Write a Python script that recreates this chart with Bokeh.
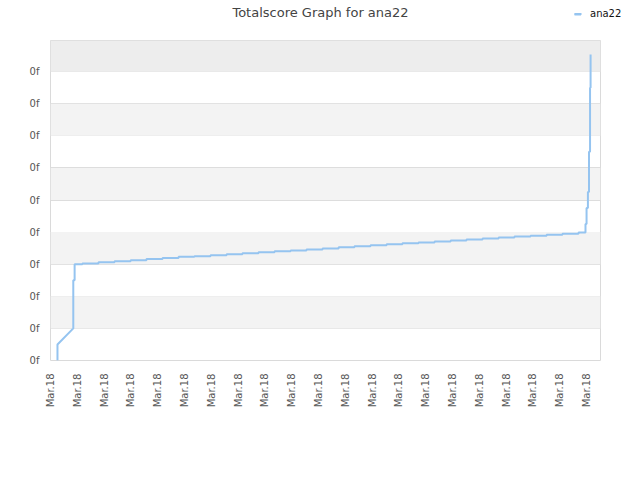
import math
from bokeh.plotting import figure
from bokeh.layouts import column
from bokeh.models import (Range1d, FixedTicker, BoxAnnotation, Legend,
                          LegendItem)
from bokeh.core.properties import value
from bokeh.embed import file_html
from bokeh.resources import INLINE

# ---- data (x in tick-index units, y in gridline units) ----
start_x = [0.26, 0.26, 0.85, 0.85, 0.90]
start_y = [0.0, 0.5, 1.0, 2.5, 2.5]

step_x = [0.90, 1.19, 1.79, 2.39, 2.99, 3.58, 4.18, 4.78, 5.37, 5.97, 6.57,
          7.16, 7.76, 8.36, 8.96, 9.55, 10.15, 10.75, 11.34, 11.94, 12.54,
          13.13, 13.73, 14.33, 14.93, 15.52, 16.12, 16.72, 17.31, 17.91,
          18.51, 19.10, 19.70, 19.96, 20.00, 20.05, 20.09, 20.13, 20.15]
step_y = [3.00, 3.02, 3.06, 3.09, 3.12, 3.16, 3.19, 3.23, 3.25, 3.28, 3.31,
          3.34, 3.37, 3.40, 3.43, 3.46, 3.49, 3.53, 3.56, 3.59, 3.62,
          3.65, 3.68, 3.71, 3.74, 3.77, 3.80, 3.83, 3.86, 3.89,
          3.92, 3.95, 3.99, 4.25, 4.75, 5.25, 6.50, 8.50, 9.53]

x_ticks = list(range(21))
x_tick_labels = ["Mar.18"] * 21
y_ticks = list(range(10))
y_tick_labels = ["0f"] * 10

series_name = "ana22"
title_text = "Totalscore Graph for ana22"

# build path (steps drawn "after")
px = list(start_x)
py = list(start_y)
for xv, yv in zip(step_x, step_y):
    px.append(xv)
    py.append(py[-1])
    px.append(xv)
    py.append(yv)

FONT = "DejaVu Sans"
LINE_COLOR = "#95c4f0"

# ---------- header (title + legend), pixel-like coordinates ----------
hp = figure(width=640, height=40, output_backend="svg", toolbar_location=None,
            x_range=Range1d(0, 640), y_range=Range1d(40, 0),
            x_axis_type=None, y_axis_type=None,
            min_border_left=0, min_border_right=0, min_border_top=0,
            min_border_bottom=0)
hp.frame_align = False
hp.outline_line_color = None
hp.xgrid.visible = False
hp.ygrid.visible = False
hp.background_fill_color = "white"
hp.border_fill_color = "white"
hp.text(x=[320], y=[12], text=[title_text], text_align="center",
        text_baseline="middle", text_font=value(FONT),
        text_font_size="13px", text_color="#444444")
# legend key (drawn where the legend places its glyph)
key = hp.line(x=[574, 581], y=[13.5, 13.5], line_color=LINE_COLOR,
              line_width=2)
legend = Legend(items=[LegendItem(label=series_name, renderers=[key])],
                location=(574, 20.5), padding=0, margin=0, spacing=0,
                glyph_width=7, glyph_height=12, label_height=12,
                label_standoff=9, label_text_font=FONT,
                label_text_font_size="10px", label_text_color="#111111",
                background_fill_alpha=0, border_line_color=None)
hp.add_layout(legend, "center")

# ---------- main plot ----------
p = figure(width=640, height=400, output_backend="svg", toolbar_location=None,
           x_range=Range1d(0, 20.52), y_range=Range1d(0, 9.97),
           min_border_left=50, min_border_right=40, min_border_top=0,
           min_border_bottom=80)
p.frame_align = False

p.background_fill_color = "white"
p.border_fill_color = "white"
p.outline_line_color = "#dadada"
p.outline_line_width = 1

for b in range(1, 9, 2):
    p.add_layout(BoxAnnotation(bottom=b, top=b + 1, fill_color="#f3f3f3",
                               fill_alpha=1, line_color=None, level="underlay"))
p.add_layout(BoxAnnotation(bottom=9, top=9.97, fill_color="#ededed",
                           fill_alpha=1, line_color=None, level="underlay"))

p.xgrid.grid_line_color = None
p.ygrid.grid_line_color = "#dddddd"
p.ygrid.grid_line_width = 1

p.line(px, py, line_color=LINE_COLOR, line_width=2)

p.xaxis.ticker = FixedTicker(ticks=x_ticks)
p.xaxis.major_label_overrides = {t: l for t, l in zip(x_ticks, x_tick_labels)}
p.yaxis.ticker = FixedTicker(ticks=y_ticks)
p.yaxis.major_label_overrides = {t: l for t, l in zip(y_ticks, y_tick_labels)}
for ax in (p.xaxis[0], p.yaxis[0]):
    ax.axis_line_color = None
    ax.major_tick_line_color = None
    ax.minor_tick_line_color = None
    ax.major_tick_out = 0
    ax.major_tick_in = 0
    ax.major_label_text_font = FONT
    ax.major_label_text_font_size = "10px"
    ax.major_label_text_color = "#555555"
p.yaxis.major_label_standoff = 11
p.xaxis.major_label_standoff = 13
p.xaxis.major_label_orientation = math.pi / 2

layout = column(hp, p, spacing=0)
open("out.html", "w").write(file_html(layout, INLINE))
